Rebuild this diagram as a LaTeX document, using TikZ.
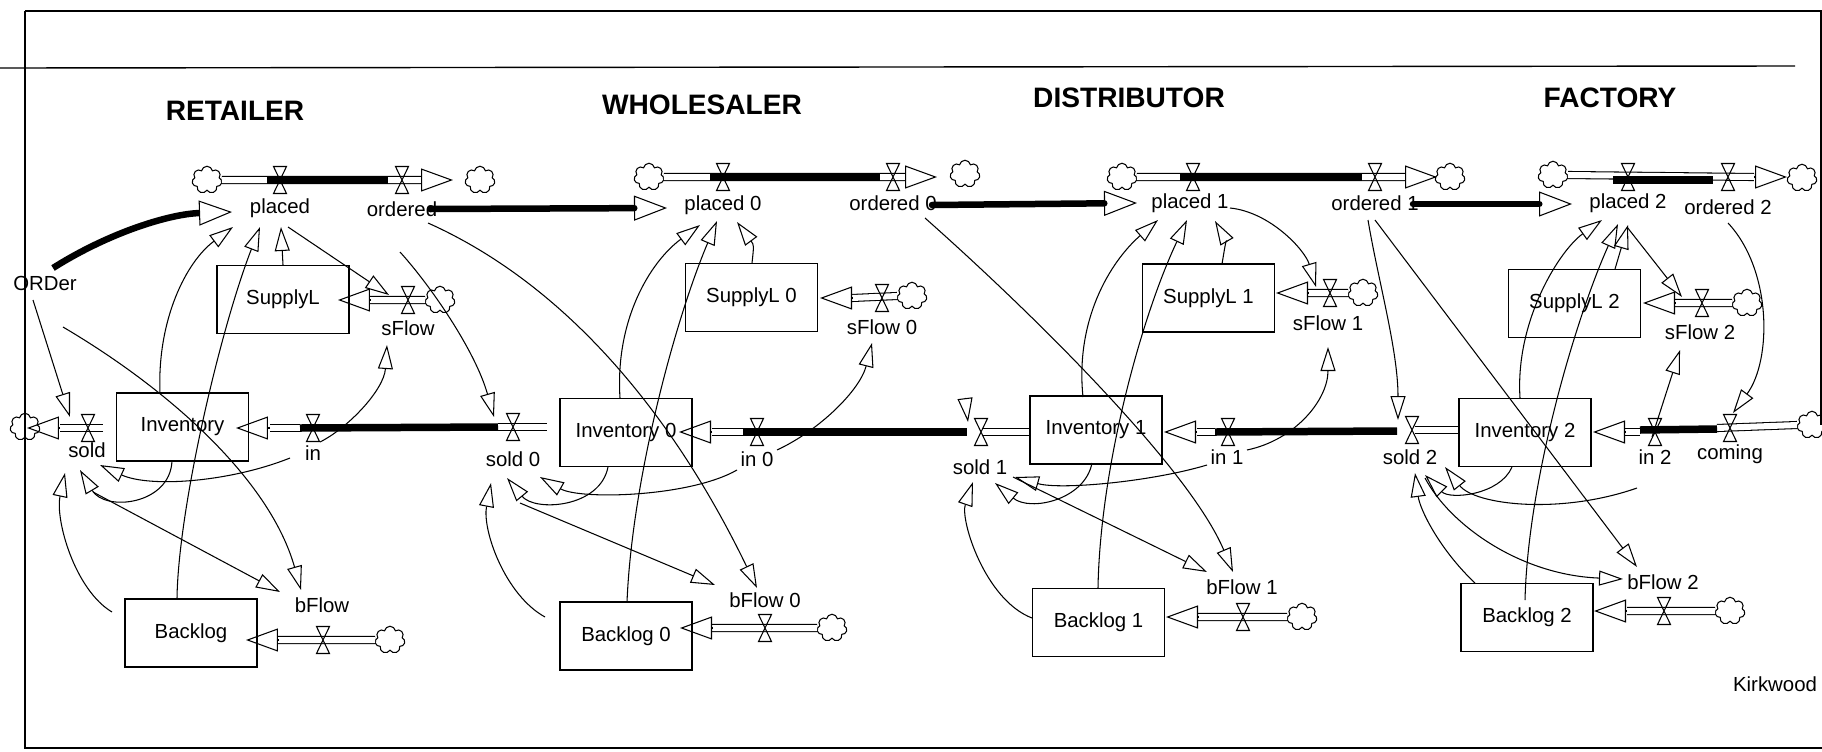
\documentclass[tikz,border=0pt]{standalone}
\usepackage{fontspec}
\setmainfont{Liberation Sans}
\usetikzlibrary{arrows.meta,shapes.symbols,calc}
\begin{document}
\begin{tikzpicture}[x=0.02cm,y=-0.02cm,
  lbl/.style={font=\fontsize{11.6}{13}\selectfont, inner sep=1pt},
  ttl/.style={font=\fontsize{16}{18}\selectfont\bfseries, inner sep=1pt},
  stock/.style={draw, line width=0.7pt, minimum width=2.64cm, minimum height=1.36cm, inner sep=0pt, font=\fontsize{11.6}{13}\selectfont},
  cld/.style={cloud, cloud puffs=7, cloud puff arc=160, cloud ignores aspect, draw, line width=0.6pt, minimum width=0.6cm, minimum height=0.55cm, inner sep=0pt},
  pipe/.style={line width=0.6pt, double=white, double distance=0.12cm},
  conv/.style={line width=0.15cm},
  fhead/.style={line width=0.6pt, -{Triangle[open, length=0.64cm, width=0.46cm]}},
  lnk/.style={line width=0.6pt, -{Triangle[open, length=0.48cm, width=0.3cm]}},
  thk/.style={line width=0.13cm, -{Triangle[open, length=0.66cm, width=0.5cm, line width=0.6pt]}},
  frm/.style={line width=0.8pt},
  pics/valve/.style={code={\draw[line width=0.6pt] (-6.5,-13.5) -- (6.5,-13.5) -- (-6.5,13.5) -- (6.5,13.5) -- cycle;}}
]
\useasboundingbox (0,0) rectangle (1822,751);

% frame
\draw[frm] (25,11) -- (1822,11);
\draw[frm] (0,68) -- (1795,66);
\draw[frm] (25,11) -- (25,748) -- (1822,748);
\draw[frm] (1821,11) -- (1821,425);

% titles
\node[ttl] (tR) at (235,111) {RETAILER};
\node[ttl] (tW) at (702,105) {WHOLESALER};
\node[ttl] (tD) at (1129,98) {DISTRIBUTOR};
\node[ttl] (tF) at (1610,98) {FACTORY};

% valves
\coordinate (vPlR) at (280,180);  \coordinate (vOrR) at (402,180);
\coordinate (vSfR) at (408,300);  \coordinate (vSoR) at (88,428);
\coordinate (vInR) at (313,428);  \coordinate (vBfR) at (323,640);
\coordinate (vPlW) at (723,177);  \coordinate (vOrW) at (893,177);
\coordinate (vSfW) at (882,298);  \coordinate (vSoW) at (513,427);
\coordinate (vInW) at (757,432);  \coordinate (vBfW) at (765,628);
\coordinate (vPlD) at (1193,177); \coordinate (vOrD) at (1375,177);
\coordinate (vSfD) at (1330,293); \coordinate (vSoD) at (981,432);
\coordinate (vInD) at (1228,432); \coordinate (vBfD) at (1243,617);
\coordinate (vPlF) at (1628,177); \coordinate (vOrF) at (1728,177);
\coordinate (vSfF) at (1702,303); \coordinate (vSoF) at (1412,430);
\coordinate (vInF) at (1655,432); \coordinate (vCoF) at (1730,428);
\coordinate (vBfF) at (1664,611);

% clouds
\node[cld] (cR1) at (207,180) {};  \node[cld] (cR2) at (480,180) {};
\node[cld] (cR3) at (440,300) {};  \node[cld] (cR4) at (25,427) {};
\node[cld] (cR5) at (390,640) {};
\node[cld] (cW1) at (649,177) {};  \node[cld] (cW2) at (965,174) {};
\node[cld] (cW3) at (912,296) {};  \node[cld] (cW5) at (832,628) {};
\node[cld] (cD1) at (1122,177) {}; \node[cld] (cD2) at (1450,177) {};
\node[cld] (cD3) at (1363,293) {}; \node[cld] (cD5) at (1302,617) {};
\node[cld] (cF1) at (1553,175) {}; \node[cld] (cF2) at (1802,178) {};
\node[cld] (cF3) at (1747,303) {}; \node[cld] (cF4) at (1812,425) {};
\node[cld] (cF5) at (1730,611) {};

% pipes
\draw[pipe] (cR1.east) -- (421,180);
\draw[pipe] (cR3.west) -- (370,300);
\draw[pipe] (103,428) -- (60,428);
\draw[pipe] (300,428) -- (270,428);
\draw[pipe] (cR5.west) -- (278,640);
\draw[pipe] (cW1.east) -- (905,177);
\draw[pipe] (cW3.west) -- (852,298);
\draw[pipe] (498,427) -- (547,427);
\draw[pipe] (743,432) -- (712,432);
\draw[pipe] (cW5.west) -- (712,628);
\draw[pipe] (cD1.east) -- (1405,177);
\draw[pipe] (cD3.west) -- (1308,293);
\draw[pipe] (983,432) -- (1030,432);
\draw[pipe] (1215,432) -- (1197,432);
\draw[pipe] (cD5.west) -- (1198,617);
\draw[pipe] (cF1.east) -- (1754,177);
\draw[pipe] (cF3.west) -- (1675,303);
\draw[pipe] (1415,430) -- (1459,430);
\draw[pipe] (1640,432) -- (1625,432);
\draw[pipe] (1717,428) -- (cF4.west);
\draw[pipe] (cF5.west) -- (1627,611);

% conveyors (filled black pipes)
\draw[conv] (267,180) -- (388,180);
\draw[conv] (300,428) -- (498,427);
\draw[conv] (710,177) -- (880,177);
\draw[conv] (743,432) -- (967,432);
\draw[conv] (1180,177) -- (1362,177);
\draw[conv] (1215,432) -- (1397,431);
\draw[conv] (1613,180) -- (1713,180);
\draw[conv] (1640,430) -- (1717,429);

% valves drawn
\foreach \v in {vPlR,vOrR,vSfR,vSoR,vInR,vBfR,vPlW,vOrW,vSfW,vSoW,vInW,vBfW,vPlD,vOrD,vSfD,vSoD,vInD,vBfD,vPlF,vOrF,vSfF,vSoF,vInF,vCoF,vBfF}
  \pic at (\v) {valve};

% flow heads
\draw[fhead] (421,180) -- (453,180);
\draw[fhead] (370,300) -- (338,300);
\draw[fhead] (60,428) -- (27,428);
\draw[fhead] (270,428) -- (236,428);
\draw[fhead] (278,640) -- (246,640);
\draw[fhead] (905,177) -- (937,177);
\draw[fhead] (852,298) -- (820,298);
\draw[fhead] (712,432) -- (679,432);
\draw[fhead] (712,628) -- (680,628);
\draw[fhead] (1405,177) -- (1437,177);
\draw[fhead] (1308,293) -- (1276,293);
\draw[fhead] (1197,432) -- (1164,432);
\draw[fhead] (1198,617) -- (1166,617);
\draw[fhead] (1754,177) -- (1787,177);
\draw[fhead] (1675,303) -- (1643,303);
\draw[fhead] (1625,432) -- (1593,432);
\draw[fhead] (1627,611) -- (1594,611);

% stocks
\node[stock] (supR) at (283,299.5) {SupplyL};
\node[stock] (invR) at (182.5,427) {Inventory};
\node[stock] (backR) at (191,633) {Backlog};
\node[stock] (supW) at (751.5,297.5) {SupplyL 0};
\node[stock] (invW) at (626,432.5) {Inventory 0};
\node[stock] (backW) at (626,636) {Backlog 0};
\node[stock] (supD) at (1208.5,298) {SupplyL 1};
\node[stock] (invD) at (1096,430) {Inventory 1};
\node[stock] (backD) at (1098.5,622.5) {Backlog 1};
\node[stock] (supF) at (1574.5,303.5) {SupplyL 2};
\node[stock] (invF) at (1525,432.5) {Inventory 2};
\node[stock] (backF) at (1527,617.5) {Backlog 2};

% labels
\node[lbl] (placedR) at (280,208) {placed};
\node[lbl] (orderedR) at (402,209) {ordered};
\node[lbl] (ORDer) at (45,283) {ORDer};
\node[lbl] (sflowR) at (408,328) {sFlow};
\node[lbl] (soldR) at (87,450) {sold};
\node[lbl] (inR) at (313,453) {in};
\node[lbl] (bflowR) at (322,605) {bFlow};
\node[lbl] (placedW) at (723,205) {placed 0};
\node[lbl] (orderedW) at (893,203) {ordered 0};
\node[lbl] (sflowW) at (882,327) {sFlow 0};
\node[lbl] (soldW) at (513,459) {sold 0};
\node[lbl] (inW) at (757,459) {in 0};
\node[lbl] (bflowW) at (765,600) {bFlow 0};
\node[lbl] (placedD) at (1190,203) {placed 1};
\node[lbl] (orderedD) at (1375,203) {ordered 1};
\node[lbl] (sflowD) at (1328,323) {sFlow 1};
\node[lbl] (soldD) at (980,467) {sold 1};
\node[lbl] (inD) at (1227,457) {in 1};
\node[lbl] (bflowD) at (1242,587) {bFlow 1};
\node[lbl] (placedF) at (1628,203) {placed 2};
\node[lbl] (orderedF) at (1728,207) {ordered 2};
\node[lbl] (sflowF) at (1700,332) {sFlow 2};
\node[lbl] (soldF) at (1410,457) {sold 2};
\node[lbl] (inF) at (1655,457) {in 2};
\node[lbl] (comingF) at (1730,454) {coming};
\node[lbl] (bflowF) at (1663,582) {bFlow 2};
\node[lbl] (kirk) at (1775,684) {Kirkwood};

% ---- links: RETAILER
\draw[thk] ($(ORDer)+(8,-15)$) .. controls (110,232) and (170,214) .. ($(placedR)+(-48,4)$);
\draw[lnk] ($(placedR)+(8,19)$) -- ($(vSfR)+(-19,-5)$);
\draw[lnk] ($(supR)+(0,-34.5)$) -- ($(placedR)+(1,19)$);
\draw[lnk] ($(invR)+(-22.5,-34)$) .. controls (157,320) and (186,262) .. ($(placedR)+(-47,19)$);
\draw[lnk] ($(backR)+(-14,-34)$) .. controls (178,510) and (220,330) .. ($(placedR)+(-20,19)$);
\draw[lnk] ($(ORDer)+(-12,17)$) -- ($(vSoR)+(-18,-11)$);
\draw[lnk] ($(ORDer)+(18,44)$) .. controls (170,390) and (270,480) .. ($(bflowR)+(-21,-15)$);
\draw[lnk] ($(vInR)+(7,14)$) .. controls (348,428) and (384,390) .. ($(sflowR)+(-21,17)$);
\draw[lnk] ($(inR)+(-23,5)$) .. controls (230,482) and (150,488) .. ($(soldR)+(13,15)$);
\draw[lnk] ($(invR)+(-10.5,34)$) .. controls (170,505) and (105,512) .. ($(soldR)+(-7,20)$);
\draw[lnk] ($(backR)+(-79,-21)$) .. controls (75,590) and (55,520) .. ($(soldR)+(-22,23)$);
\draw[lnk] ($(soldR)+(6,42)$) -- ($(bflowR)+(-42,-13)$);
\draw[thk, line cap=round] ($(orderedR)+(28,0)$) -- ($(placedW)+(-56,3)$);
\draw[lnk] ($(orderedR)+(26,14)$) .. controls (600,300) and (700,470) .. ($(bflowW)+(-8,-12)$);
\draw[lnk] ($(orderedR)+(-2,43)$) .. controls (430,285) and (475,350) .. ($(vSoW)+(-19,-10)$);

% ---- links: WHOLESALER
\draw[lnk] ($(supW)+(0.5,-34.5)$) .. controls (754,245) .. ($(placedW)+(14,17)$);
\draw[lnk] ($(invW)+(-6,-34.5)$) .. controls (615,320) and (650,262) .. ($(placedW)+(-23,20)$);
\draw[lnk] ($(backW)+(1,-34)$) .. controls (632,480) and (675,320) .. ($(placedW)+(-6,16)$);
\draw[lnk] ($(vInW)+(20,18)$) .. controls (820,430) and (860,390) .. ($(sflowW)+(-10,16)$);
\draw[lnk] ($(inW)+(-20,11)$) .. controls (690,497) and (580,500) .. ($(soldW)+(27,18)$);
\draw[lnk] ($(invW)+(-18,34.5)$) .. controls (600,508) and (535,512) .. ($(soldW)+(-6,19)$);
\draw[lnk] ($(backW)+(-81,-19)$) .. controls (505,595) and (482,530) .. ($(soldW)+(-22,24)$);
\draw[lnk] ($(soldW)+(7,44)$) -- ($(bflowW)+(-50,-15)$);
\draw[thk, line cap=round] ($(orderedW)+(39,2)$) -- ($(placedD)+(-53,0)$);
\draw[lnk] ($(orderedW)+(32,15)$) .. controls (1040,320) and (1190,470) .. ($(bflowD)+(-9,-15)$);
\coordinate (oWfree) at (965,398);
\draw[lnk] (oWfree) -- ($(vSoD)+(-13,-10)$);

% ---- links: DISTRIBUTOR
\draw[lnk] ($(supD)+(13.5,-34)$) .. controls (1226,240) .. ($(placedD)+(25,18)$);
\draw[lnk] ($(invD)+(-13,-33)$) .. controls (1075,320) and (1110,262) .. ($(placedD)+(-32,17)$);
\draw[lnk] ($(backD)+(-0.5,-34.5)$) .. controls (1100,470) and (1140,320) .. ($(placedD)+(-3,17)$);
\draw[lnk] ($(placedD)+(40,5)$) .. controls (1270,212) and (1305,250) .. ($(vSfD)+(-14,-6)$);
\draw[lnk] ($(vInD)+(19,18)$) .. controls (1295,440) and (1328,400) .. ($(sflowD)+(0,24)$);
\draw[lnk] ($(inD)+(-20,8)$) .. controls (1150,482) and (1060,490) .. ($(soldD)+(35,10)$);
\draw[lnk] ($(invD)+(-4,33)$) .. controls (1085,500) and (1030,512) .. ($(soldD)+(15,16)$);
\draw[lnk] ($(backD)+(-66.5,-4.5)$) .. controls (985,600) and (960,520) .. ($(soldD)+(-7,15)$);
\draw[lnk] ($(soldD)+(33,10)$) -- ($(bflowD)+(-35,-15)$);
\draw[thk, line cap=round] ($(orderedD)+(38,1)$) -- ($(placedF)+(-56,1)$);
\draw[lnk] ($(orderedD)+(-7,17)$) .. controls (1378,280) and (1398,350) .. ($(vSoF)+(-14,-10)$);
\draw[lnk] ($(orderedD)+(0,17)$) -- ($(bflowF)+(-26,-15)$);

% ---- links: FACTORY
\draw[lnk] ($(placedF)+(-1,24)$) -- ($(vSfF)+(-20,-6)$);
\draw[lnk] ($(supF)+(40.5,-34.5)$) -- ($(placedF)+(0,22)$);
\draw[lnk] ($(invF)+(-5,-34.5)$) .. controls (1515,320) and (1560,250) .. ($(placedF)+(-26,17)$);
\draw[lnk] ($(backF)+(-2,-17.5)$) .. controls (1528,480) and (1575,320) .. ($(placedF)+(-10,21)$);
\draw[lnk] ($(orderedF)+(0,16)$) .. controls (1772,270) and (1772,360) .. ($(vCoF)+(3,-15)$);
\draw[lnk] ($(vInF)+(-3,5)$) -- ($(sflowF)+(-20,18)$);
\draw[lnk] ($(inF)+(-18,31)$) .. controls (1560,515) and (1475,505) .. ($(soldF)+(35,10)$);
\draw[lnk] ($(invF)+(-13,34.5)$) .. controls (1500,495) and (1450,500) .. ($(soldF)+(15,18)$);
\draw[lnk] ($(backF)+(-52,-34.5)$) .. controls (1440,550) and (1420,510) .. ($(soldF)+(5,16)$);
\draw[lnk] ($(soldF)+(15,21)$) .. controls (1450,525) and (1520,575) .. ($(bflowF)+(-40,-3)$);
\end{tikzpicture}
\end{document}
